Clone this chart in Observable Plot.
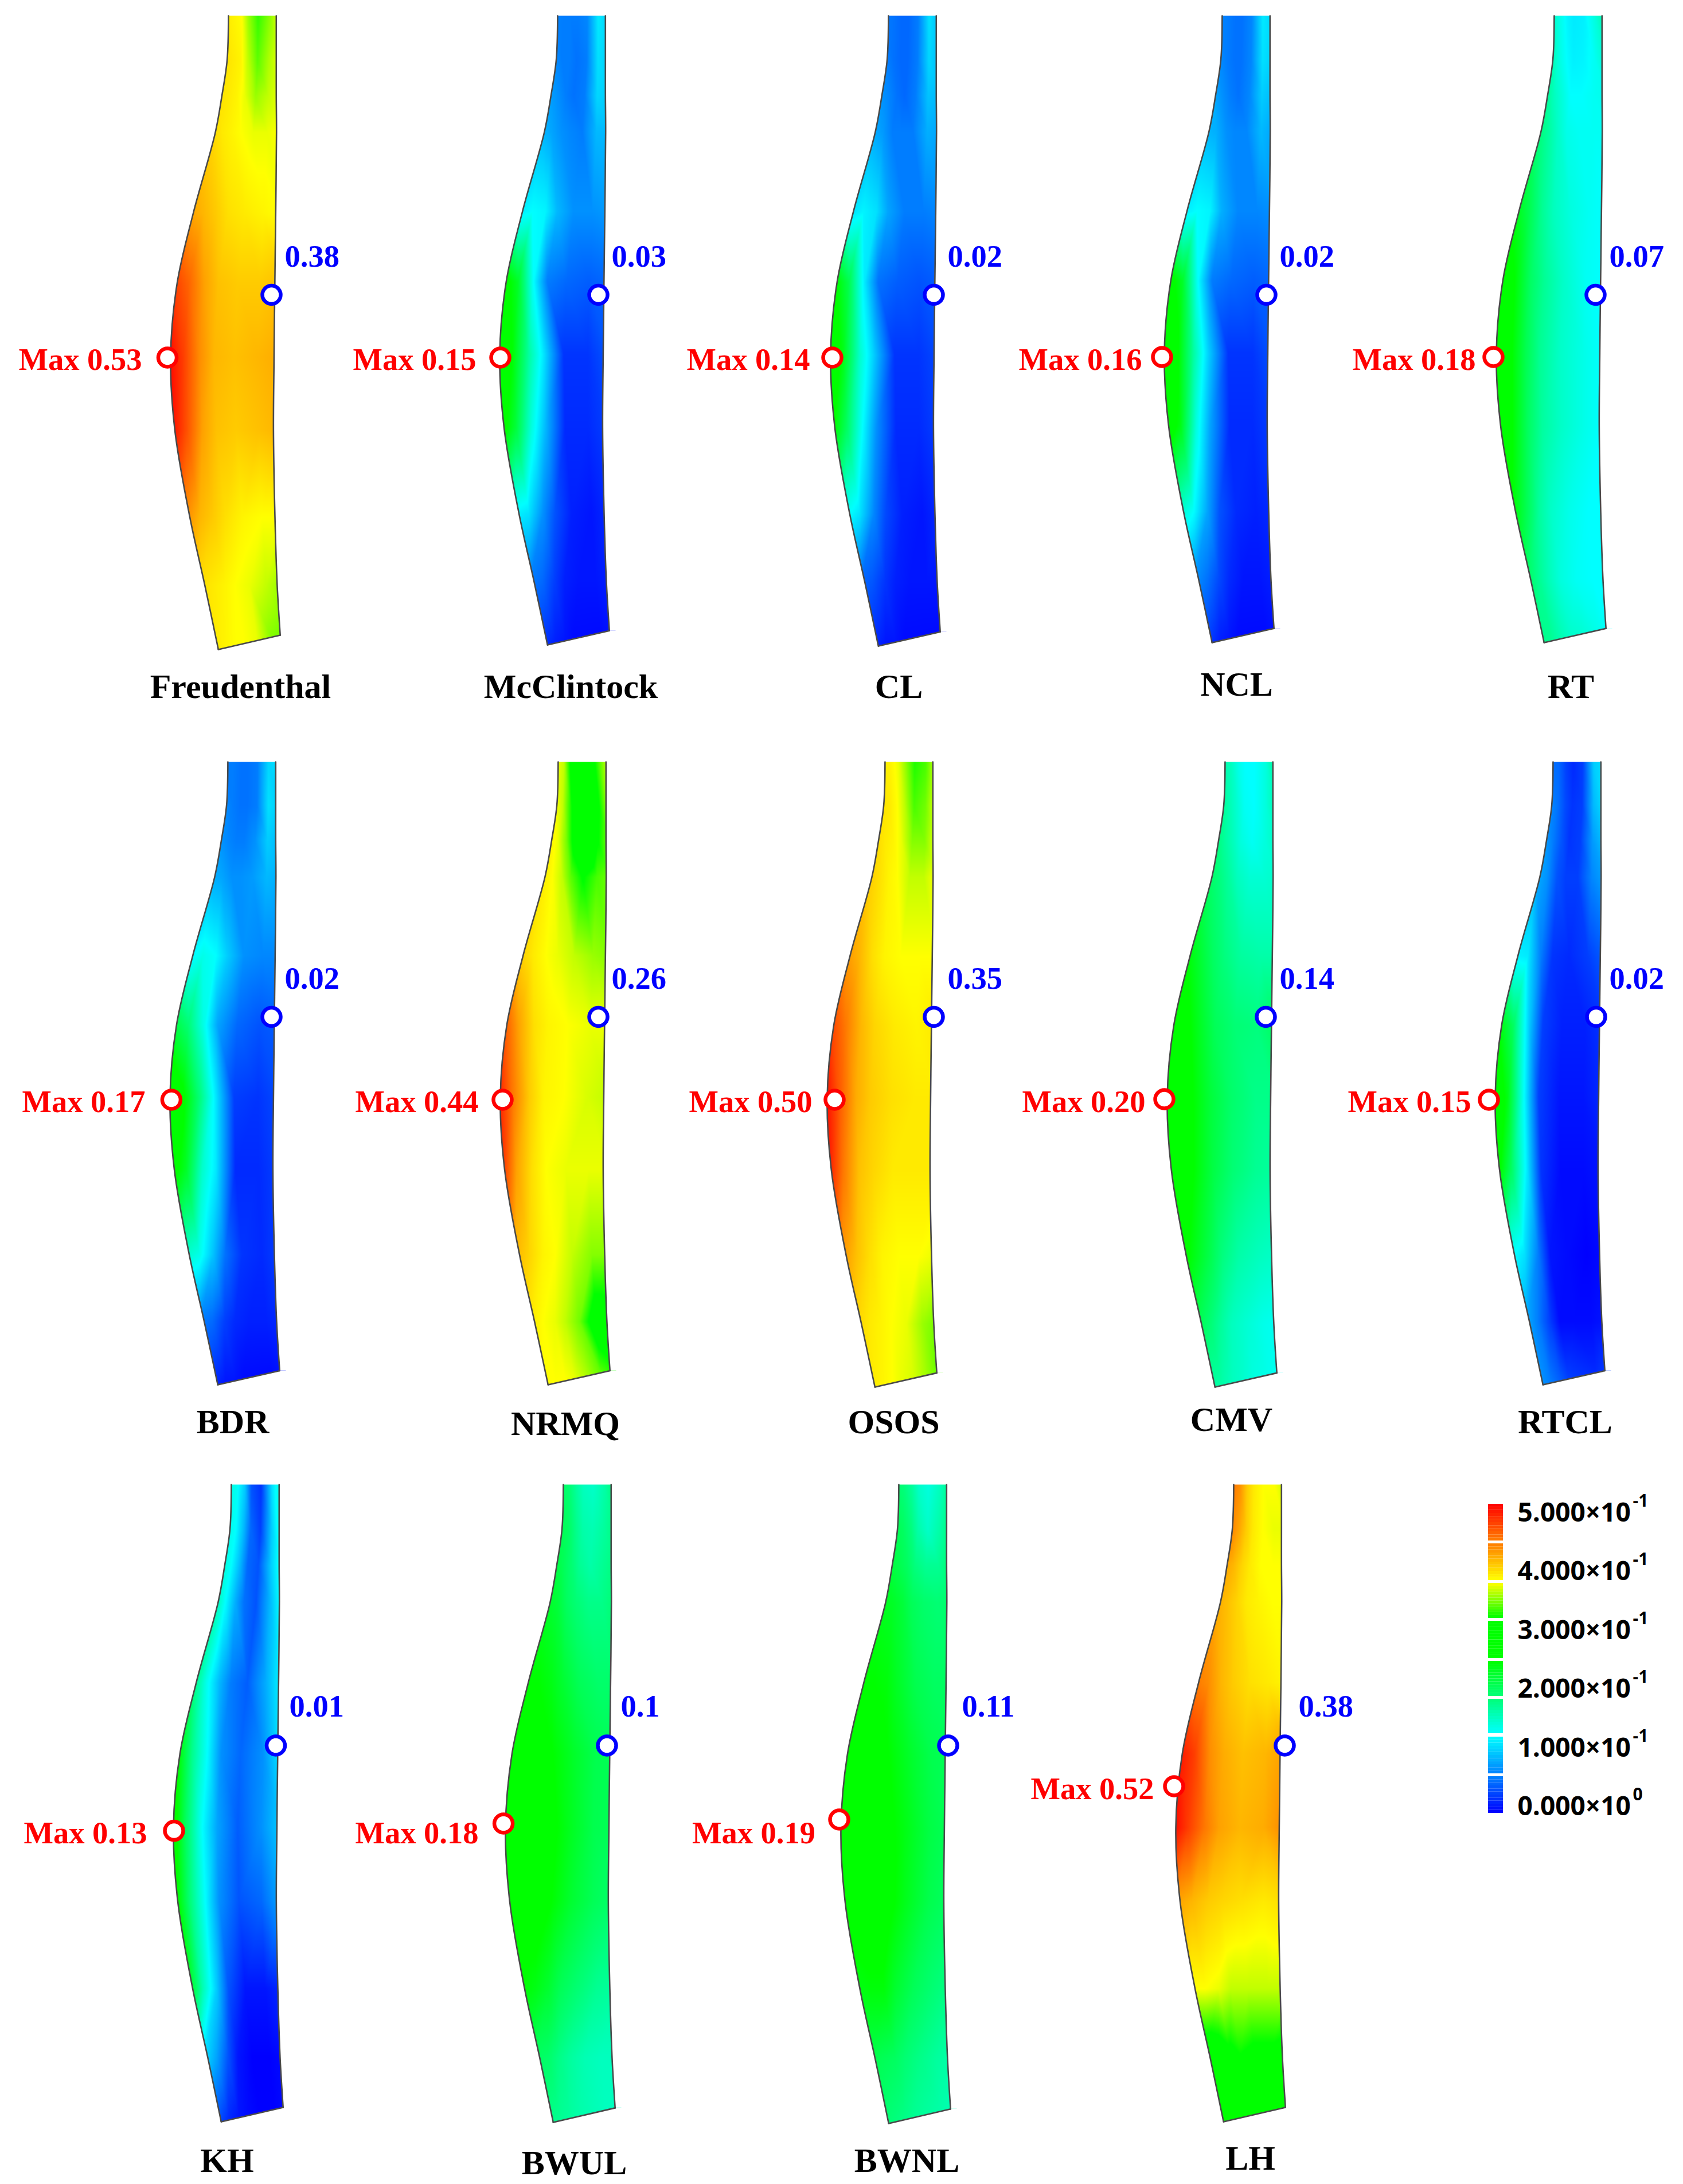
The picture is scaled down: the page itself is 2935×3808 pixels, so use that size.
<!DOCTYPE html>
<html>
<head>
<meta charset="utf-8">
<script src="https://cdn.jsdelivr.net/npm/d3@7"></script>
<script src="https://cdn.jsdelivr.net/npm/@observablehq/plot@0.6"></script>
<style>html,body{margin:0;padding:0;background:#fff}svg{display:block}</style>
</head>
<body>
<div id="chart"></div>
<script>
// ---------- data: names and the printed extreme values ----------
const names = ["Freudenthal","McClintock","CL","NCL","RT","BDR","NRMQ","OSOS","CMV","RTCL","KH","BWUL","BWNL","LH"];
const maxLabels = ["0.53","0.15","0.14","0.16","0.18","0.17","0.44","0.50","0.20","0.15","0.13","0.18","0.19","0.52"];
const minLabels = ["0.38","0.03","0.02","0.02","0.07","0.02","0.26","0.35","0.14","0.02","0.01","0.1","0.11","0.38"];
const legendTicks = ["5.000×10","4.000×10","3.000×10","2.000×10","1.000×10","0.000×10"];
const legendExp = ["-1","-1","-1","-1","-1","0"];
const colorDomain = [0,.0625,.125,.1875,.25,.3125,.375,.4375,.5];
const colorRange = ["#0000ff","#0082ff","#00ffff","#00ff78","#00ff00","#00ff00","#ffff00","#ff7d00","#ff0000"];

// ---------- field values: rows top to bottom, columns left to right ----------
const fFreudenthal = [[.385,.38,.375,.35,.325,.345,.37],[.39,.385,.38,.36,.335,.355,.37],[.39,.385,.38,.37,.35,.36,.37],[.395,.385,.38,.375,.37,.37,.375],[.42,.41,.40,.39,.385,.38,.375],[.47,.45,.42,.405,.40,.40,.405],[.50,.47,.43,.41,.405,.41,.415],[.495,.46,.42,.405,.40,.405,.41],[.43,.41,.40,.39,.38,.375,.375],[.39,.385,.38,.375,.37,.36,.35],[.385,.38,.375,.375,.37,.345,.34]];
const fMcClintock = [[.065,.06,.06,.06,.065,.115,.1],[.07,.06,.06,.055,.06,.11,.10],[.08,.07,.06,.055,.06,.105,.10],[.09,.08,.07,.065,.06,.09,.09],[.115,.125,.12,.09,.07,.07,.075],[.27,.23,.125,.06,.05,.045,.05],[.29,.25,.17,.115,.025,.025,.04],[.27,.22,.14,.09,.02,.02,.03],[.12,.11,.07,.04,.015,.01,.02],[.06,.05,.03,.015,.01,.01,.015],[.025,.015,.01,.005,.005,.005,.01]];
const fCL = [[.06,.055,.05,.05,.06,.11,.09],[.065,.055,.05,.05,.06,.105,.09],[.075,.065,.055,.05,.06,.095,.09],[.085,.075,.06,.06,.06,.085,.08],[.11,.12,.11,.08,.06,.06,.065],[.26,.21,.115,.055,.045,.04,.045],[.28,.24,.15,.10,.025,.025,.035],[.26,.20,.125,.07,.02,.02,.03],[.13,.11,.065,.035,.015,.01,.02],[.05,.04,.025,.015,.01,.01,.01],[.02,.01,.01,.005,.005,.005,.005]];
const fNCL = [[.065,.06,.055,.055,.065,.115,.1],[.07,.06,.055,.055,.065,.11,.1],[.085,.07,.06,.055,.065,.10,.09],[.09,.085,.07,.065,.065,.09,.08],[.115,.125,.12,.085,.065,.065,.07],[.27,.23,.125,.06,.05,.045,.05],[.30,.26,.17,.105,.025,.025,.04],[.28,.24,.14,.08,.02,.02,.03],[.15,.125,.08,.04,.02,.015,.02],[.07,.055,.035,.02,.01,.01,.015],[.03,.015,.01,.005,.005,.005,.01]];
const fRT = [[.16,.135,.12,.115,.118,.14,.17],[.17,.14,.125,.118,.12,.13,.15],[.18,.155,.14,.125,.125,.13,.135],[.19,.17,.15,.135,.13,.13,.13],[.24,.21,.175,.155,.14,.13,.125],[.28,.25,.20,.175,.15,.13,.125],[.30,.26,.21,.175,.15,.135,.125],[.29,.25,.20,.17,.15,.135,.125],[.25,.21,.17,.15,.135,.125,.125],[.20,.175,.155,.14,.13,.125,.125],[.18,.175,.16,.15,.145,.135,.125]];
const fBDR = [[.06,.06,.055,.055,.06,.105,.11],[.07,.06,.055,.055,.06,.11,.10],[.075,.065,.06,.06,.07,.10,.09],[.085,.08,.07,.07,.075,.09,.085],[.12,.135,.125,.10,.07,.065,.065],[.22,.19,.135,.08,.05,.04,.045],[.30,.26,.19,.125,.03,.025,.035],[.27,.23,.15,.115,.02,.02,.03],[.15,.135,.095,.055,.025,.02,.03],[.06,.05,.03,.02,.015,.015,.02],[.02,.01,.01,.005,.005,.005,.01]];
const fNRMQ = [[.375,.36,.30,.27,.28,.33,.37],[.38,.36,.32,.28,.265,.31,.36],[.385,.37,.34,.30,.27,.31,.345],[.385,.375,.36,.335,.31,.33,.34],[.40,.385,.375,.37,.36,.35,.345],[.46,.42,.39,.38,.375,.37,.37],[.49,.44,.40,.38,.375,.365,.36],[.48,.42,.39,.375,.37,.37,.37],[.41,.395,.38,.375,.36,.345,.345],[.385,.375,.37,.36,.34,.29,.30],[.375,.375,.375,.37,.355,.335,.32]];
const fOSOS = [[.385,.38,.37,.35,.32,.33,.365],[.39,.385,.375,.36,.33,.34,.37],[.395,.385,.38,.37,.345,.345,.37],[.40,.39,.38,.375,.36,.36,.375],[.425,.41,.39,.38,.375,.375,.375],[.47,.44,.41,.395,.385,.38,.385],[.50,.455,.415,.40,.39,.385,.385],[.49,.44,.405,.395,.385,.385,.385],[.425,.405,.39,.38,.375,.375,.37],[.395,.385,.38,.375,.37,.35,.34],[.385,.38,.375,.37,.365,.35,.335]];
const fCMV = [[.17,.155,.135,.125,.125,.14,.18],[.18,.16,.145,.13,.125,.14,.165],[.19,.17,.155,.14,.13,.14,.155],[.20,.185,.17,.155,.145,.145,.15],[.25,.225,.20,.185,.17,.165,.165],[.29,.26,.23,.205,.19,.185,.20],[.31,.27,.245,.22,.195,.18,.18],[.29,.27,.24,.215,.19,.175,.17],[.26,.235,.21,.185,.165,.155,.15],[.21,.19,.17,.155,.145,.135,.13],[.17,.165,.155,.15,.14,.135,.13]];
const fRTCL = [[.055,.05,.03,.02,.03,.10,.11],[.07,.055,.035,.025,.03,.09,.11],[.08,.06,.04,.025,.03,.075,.095],[.085,.07,.04,.03,.03,.065,.08],[.12,.115,.06,.025,.02,.03,.045],[.25,.20,.10,.03,.015,.015,.025],[.29,.24,.125,.03,.01,.01,.02],[.27,.20,.115,.025,.005,.005,.01],[.13,.11,.06,.01,.005,.0,.005],[.085,.06,.03,.005,.005,.005,.01],[.075,.06,.045,.03,.025,.02,.03]];
const fKH = [[.14,.13,.10,.04,.025,.11,.15],[.14,.125,.09,.05,.03,.10,.15],[.15,.125,.09,.05,.04,.10,.14],[.17,.125,.085,.055,.04,.09,.135],[.19,.135,.09,.06,.045,.085,.125],[.26,.18,.125,.07,.05,.07,.115],[.29,.20,.125,.08,.045,.07,.10],[.27,.19,.125,.07,.04,.05,.08],[.24,.16,.10,.04,.01,.01,.02],[.11,.08,.04,.01,.0,.0,.005],[.04,.02,.01,.005,.0,.0,.005]];
const fBWUL = [[.20,.19,.17,.155,.15,.165,.19],[.21,.20,.18,.165,.16,.17,.185],[.22,.205,.19,.175,.165,.175,.185],[.23,.22,.20,.19,.18,.18,.19],[.25,.25,.24,.225,.205,.195,.195],[.26,.26,.26,.25,.23,.21,.205],[.27,.27,.27,.26,.235,.21,.205],[.27,.27,.265,.25,.225,.205,.195],[.25,.24,.225,.205,.19,.175,.17],[.20,.195,.18,.17,.16,.155,.155],[.18,.175,.17,.165,.16,.155,.155]];
const fBWNL = [[.195,.185,.17,.15,.14,.155,.18],[.21,.20,.185,.165,.15,.165,.185],[.22,.21,.20,.185,.175,.175,.19],[.235,.23,.22,.205,.195,.19,.195],[.25,.25,.245,.23,.21,.20,.20],[.26,.26,.26,.25,.23,.21,.205],[.265,.27,.27,.26,.24,.215,.205],[.26,.265,.27,.26,.235,.21,.20],[.24,.245,.245,.225,.205,.19,.18],[.21,.205,.20,.19,.18,.17,.165],[.19,.185,.18,.175,.17,.165,.16]];
const fLH = [[.445,.43,.40,.385,.375,.375,.36],[.44,.42,.40,.385,.375,.37,.37],[.42,.41,.395,.385,.375,.375,.375],[.415,.405,.395,.385,.38,.375,.375],[.44,.43,.41,.40,.39,.385,.38],[.49,.47,.43,.415,.405,.41,.42],[.50,.47,.44,.42,.41,.415,.43],[.42,.41,.40,.395,.39,.385,.39],[.375,.375,.37,.36,.36,.36,.36],[.28,.285,.30,.31,.30,.30,.29],[.28,.28,.28,.28,.28,.28,.32]];
const fields = [fFreudenthal,fMcClintock,fCL,fNCL,fRT,fBDR,fNRMQ,fOSOS,fCMV,fRTCL,fKH,fBWUL,fBWNL,fLH];

// ---------- specimen geometry, in the shared x/y coordinate system ----------
const colU = [0,.12,.28,.42,.62,.85,1];
const rowTL = [0,.0697,.1267,.1846,.3113,.4226,.5385,.6543,.7910,.8986,1];
const rowTR = [0,.0697,.1267,.1846,.3113,.4226,.5385,.6543,.7910,.8986,.9774];
const rowL = [100.9,98.6,89.4,77.9,39.6,11.3,0,7.5,33.5,59.7,83.3];
const rowR = [184.3,184.3,184.3,184.7,183.3,181.8,180.4,179.4,182,185.9,191.2];

const bodyX = [297,871,1448,2030,2609,296,872,1442,2035,2607,302,881,1466,2050];
const bodyTop = [27,27,27,27,27,1328,1328,1328,1328,1328,2588,2588,2588,2588];
const bodyBottom = [1132,1124,1126,1120,1120,2414,2414,2418,2418,2414,3699,3700,3702,3699];

const maxDotX = [291.5,872,1451,2026,2604,298.4,876,1455,2030,2596,303,877.6,1463,2047];
const maxDotY = [623,623,623,622,622,1917,1917,1917,1916,1917,3191.6,3179,3172,3114];
const minDotX = [473,1043,1628,2208,2782,473,1043,1628,2207,2783,480.5,1058,1653,2240];
const minDotY = [513.5,513.5,513.5,513.5,513.5,1772.5,1772.5,1772.5,1772.5,1772.5,3043,3043,3043,3043];
const maxTextX = [247,830,1412,1991,2573,253,834,1416,1997,2565,256,834,1421.5,2012];
const maxTextY = [627,627,627,627,627,1921,1921,1921,1921,1921,3196,3196,3196,3119];
const minTextX = [496,1066,1652,2231,2806,496,1066,1652,2231,2806,504,1082,1677,2264];
const minTextY = [447,447,447,447,447,1706,1706,1706,1706,1706,2975,2975,2975,2975];
const nameX = [419,995,1567,2156,2739,405.5,985.5,1558,2147,2729,395.5,1001,1581,2180];
const nameY = [1197,1197,1197,1193,1197,2479,2482,2479,2475,2479,3767,3771,3767,3763];

const legendSegTop = [2622,2691,2760,2826,2896,2962,3028,3097];
const legendSegBottom = [2686,2755,2821,2891,2957,3022,3092,3161];
const legendTextY = [2638,2740,2843,2945,3048,3150];

// ---------- tables built from the arrays above ----------
const serif = "'Liberation Serif','Times New Roman',serif";
const samples = [], edges = [], bottoms = [], bottomMask = [];
names.forEach((name,i) => {
  const H = bodyBottom[i]-bodyTop[i];
  rowTL.forEach((t,r) => {
    const xl = bodyX[i]+rowL[r], xr = bodyX[i]+rowR[r];
    const yl = bodyTop[i]+t*H, yr = bodyTop[i]+rowTR[r]*H;
    edges.push({id:i,xl,xr,yl,yr,outerL:bodyX[i]-14,outerR:bodyX[i]+206});
    colU.forEach((u,c) => {
      const pad = c===0 ? -6 : c===colU.length-1 ? 6 : 0;
      samples.push({id:i,x:xl+u*(xr-xl)+pad,y:yl+u*(yr-yl),v:fields[i][r][c]});
    });
  });
  const last = rowTL.length-1;
  const bl = {x:bodyX[i]+rowL[last],y:bodyTop[i]+H}, br = {x:bodyX[i]+rowR[last],y:bodyTop[i]+rowTR[last]*H};
  bottoms.push({id:i,...bl},{id:i,...br});
  const low = bodyBottom[i]+5;
  bottomMask.push(
    {id:i,x:bodyX[i]-14,y1:bl.y,y2:low},{id:i,x:bl.x,y1:bl.y,y2:low},
    {id:i,x:br.x,y1:br.y,y2:low},{id:i,x:bodyX[i]+206,y1:br.y,y2:low});
});
const legendCells = [];
legendSegTop.forEach((top,s) => {
  const bot = legendSegBottom[s], n = 12;
  for (let k=0;k<n;k++) {
    legendCells.push({y1:top+(bot-top)*k/n,y2:top+(bot-top)*(k+1)/n,v:(8-s-(k+.5)/n)/16});
  }
});
const idx = d3.range(names.length);

const rasters = names.map((_,i) => Plot.raster(samples.filter(d=>d.id===i),{
  x:"x",y:"y",fill:"v",interpolate:"barycentric",pixelSize:1,
  x1:bodyX[i]-10,x2:bodyX[i]+202,y1:bodyTop[i],y2:bodyBottom[i]+1
}));

const chart = Plot.plot({
  width:2935,height:3808,margin:0,
  style:{background:"#fff"},
  x:{domain:[0,2935],range:[0,2935],axis:null},
  y:{domain:[0,3808],range:[0,3808],axis:null},
  color:{type:"linear",domain:colorDomain,range:colorRange,interpolate:"rgb",clamp:true},
  marks:[
    ...rasters,
    Plot.areaX(edges,{x1:"outerL",x2:"xl",y:"yl",z:"id",fill:"white",curve:"catmull-rom"}),
    Plot.areaX(edges,{x1:"xr",x2:"outerR",y:"yr",z:"id",fill:"white",curve:"catmull-rom"}),
    Plot.areaY(bottomMask,{x:"x",y1:"y1",y2:"y2",z:"id",fill:"white"}),
    Plot.line(edges,{x:"xl",y:"yl",z:"id",stroke:"#4a4a4a",strokeWidth:2.6,curve:"catmull-rom"}),
    Plot.line(edges,{x:"xr",y:"yr",z:"id",stroke:"#4a4a4a",strokeWidth:2.6,curve:"catmull-rom"}),
    Plot.line(bottoms,{x:"x",y:"y",z:"id",stroke:"#4a4a4a",strokeWidth:2.6}),
    Plot.dot(idx,{x:i=>maxDotX[i],y:i=>maxDotY[i],r:16,fill:"white",stroke:"#ff0000",strokeWidth:6.5}),
    Plot.dot(idx,{x:i=>minDotX[i],y:i=>minDotY[i],r:16,fill:"white",stroke:"#0000ff",strokeWidth:6.5}),
    Plot.text(idx,{x:i=>maxTextX[i],y:i=>maxTextY[i],text:i=>"Max "+maxLabels[i],textAnchor:"end",fill:"#ff0000",fontFamily:serif,fontWeight:"bold",fontSize:54.5}),
    Plot.text(idx,{x:i=>minTextX[i],y:i=>minTextY[i],text:i=>minLabels[i],textAnchor:"start",fill:"#0000ff",fontFamily:serif,fontWeight:"bold",fontSize:54.5}),
    Plot.text(idx,{x:i=>nameX[i],y:i=>nameY[i],text:i=>names[i],textAnchor:"middle",fill:"#000",fontFamily:serif,fontWeight:"bold",fontSize:60}),
    Plot.rect(legendCells,{x1:()=>2595,x2:()=>2621,y1:"y1",y2:"y2",fill:"v"}),
    Plot.text(legendTicks,{x:()=>2646,y:(d,i)=>legendTextY[i],text:d=>d,textAnchor:"start",fill:"#000",fontFamily:"'Open Sans',sans-serif",fontWeight:"bold",fontSize:46}),
    Plot.text(legendExp,{x:()=>2847,y:(d,i)=>legendTextY[i]-21,text:d=>d,textAnchor:"start",fill:"#000",fontFamily:"'Open Sans',sans-serif",fontWeight:"bold",fontSize:30})
  ]
});
document.getElementById("chart").appendChild(chart);
</script>
</body>
</html>
